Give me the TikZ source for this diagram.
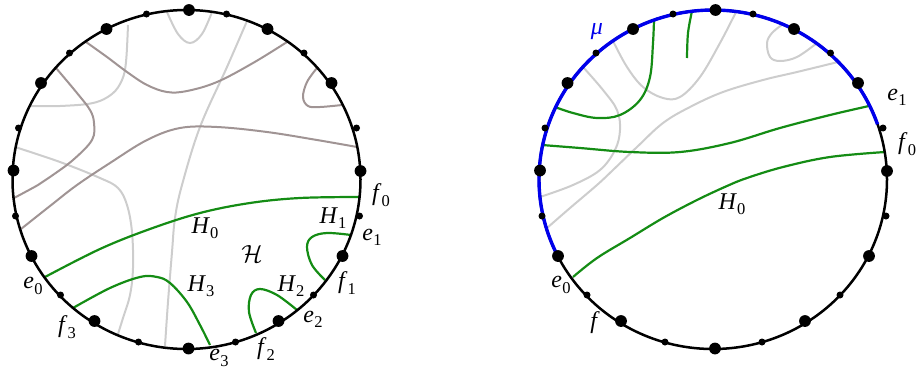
\documentclass[tikz,border=0pt]{standalone}
\usepackage{fontspec}
\setmainfont{Liberation Serif}
\definecolor{grn}{RGB}{20,140,20}
\definecolor{lgray}{RGB}{205,205,205}
\definecolor{taupe}{RGB}{160,148,148}
\definecolor{bl}{RGB}{0,0,235}
\newcommand{\myl}[2]{\textit{#1}\kern0.3pt\raisebox{-0.22em}{\fontsize{16.5}{17}\selectfont #2}}
\begin{document}
\begin{tikzpicture}[x=1pt,y=-1pt,
  rim/.style={line width=2.5pt, black},
  lgc/.style={lgray, line width=2pt},
  tpc/.style={taupe, line width=2pt},
  gc/.style={grn, line width=2.2pt},
  mu/.style={bl, line width=3.4pt},
  lab/.style={font=\fontsize{24}{28}\selectfont, inner sep=0pt}]
\useasboundingbox (0,0) rectangle (918,370);
% ---------- left circle: light gray curves
\draw[lgc] plot[smooth, tension=0.6] coordinates {(167,12) (178,34) (190,43) (202,34) (212,12)};
\draw[lgc] plot[smooth, tension=0.6] coordinates {(128,25) (126,62) (122,80) (112,94) (93,103) (60,106) (31,106)};
\draw[lgc] plot[smooth, tension=0.6] coordinates {(247,21) (227,67) (200,127) (182,185) (175,218) (172,252) (168,302) (165,346)};
\draw[lgc] plot[smooth, tension=0.6] coordinates {(15,147) (60,162) (100,178) (118,188) (127,205) (132,232) (133,268) (130,295) (123,318) (118,334)};
% taupe curves
\draw[tpc] plot[smooth, tension=0.6] coordinates {(86,42) (107,57) (127,72) (147,85) (167,92) (187,91) (217,82) (253,63) (287,42)};
\draw[tpc] plot[smooth, tension=0.6] coordinates {(56,68) (77,93) (90,110) (94,123) (92,140) (73,160) (50,177) (38,185) (14,198)};
\draw[tpc] plot[smooth, tension=0.6] coordinates {(21,229) (50,206) (77,185) (110,163) (147,140) (180,128) (217,127) (267,132) (317,140) (357,147)};
\draw[tpc] plot[smooth, tension=0.6] coordinates {(317,68) (307,82) (303,97) (308,106) (320,107) (342,105)};
% green curves
\draw[gc] plot[smooth, tension=0.6] coordinates {(45,277) (100,249) (150,229) (200,213) (250,203) (300,198) (359,197)};
\draw[gc] plot[smooth, tension=0.6] coordinates {(351,235) (327,233) (312,237) (307,247) (312,265) (325,280)};
\draw[gc] plot[smooth, tension=0.6] coordinates {(297,310) (277,295) (260,289) (251,295) (249,312) (256,333)};
\draw[gc] plot[smooth, tension=0.6] coordinates {(73,308) (110,288) (140,277) (157,277) (170,283) (187,302) (200,325) (210,345)};
% rim
\draw[rim] (186.5,179.5) ellipse [x radius=174, y radius=169.5];
% ---------- right circle: light gray curves
\draw[lgc] plot[smooth, tension=0.6] coordinates {(783,24) (772,33) (767,43) (770,57) (780,61) (797,57) (817,43)};
\draw[lgc] plot[smooth, tension=0.6] coordinates {(613,41) (627,67) (643,87) (663,98) (680,97) (700,77) (720,43) (736,12)};
\draw[lgc] plot[smooth, tension=0.6] coordinates {(838,62) (797,72) (763,80) (723,92) (690,107) (663,123) (637,147) (613,170) (597,185) (570,208) (547,228)};
\draw[lgc] plot[smooth, tension=0.6] coordinates {(583,67) (603,90) (617,110) (620,130) (615,150) (600,170) (573,185) (540,197)};
% green curves
\draw[gc] plot[smooth, tension=0.6] coordinates {(555,107) (573,113) (597,118) (620,115) (640,100) (650,77) (653,43) (654,20)};
\draw[gc] plot[smooth, tension=0.6] coordinates {(692,11) (688,33) (687,58)};
\draw[gc] plot[smooth, tension=0.6] coordinates {(542,145) (580,148) (630,152) (680,152) (730,143) (780,128) (830,115) (869,106)};
\draw[gc] plot[smooth, tension=0.6] coordinates {(885,152) (830,157) (783,167) (747,178) (727,186) (697,200) (663,218) (630,238) (597,258) (573,277)};
% rim and blue arc
\draw[rim] (713,179.5) ellipse [x radius=174, y radius=169.5];
\draw[mu] plot[domain=-19:-206.8, samples=120] ({713+174*cos(\x)}, {179.5+169.5*sin(\x)});
% ---------- dots
\foreach \cx in {186.5, 713} {
  \foreach \dx/\dy/\r in {2.5/-169.5/5.9, -40/-165.5/3.5, 40/-165.5/3.5, -80/-150.5/5.9, 81/-150.5/5.9,
     -117/-126.5/3.5, 117.5/-126.5/3.5, -145.5/-96.5/5.9, 145/-96.5/5.9, -168/-51.5/3.5, 170/-51.5/3.5,
     -173/-9/5.9, 174/-8.5/5.9, -171/36.5/3.5, 173/36.5/3.5, -155/76.5/5.9, 156/76.5/5.9,
     -126/115.5/3.5, 127/115.5/3.5, -92/141.5/5.9, 92/141.5/5.9, -48/162.5/3.5, 49/162.5/3.5, 2/169/5.9} {
    \fill ({\cx+(\dx)}, {179.5+(\dy)}) circle [radius=\r];
  }
}
% ---------- labels left
\node[lab] (lf0) at (381,195) {\myl{f}{0}};
\node[lab] (lH0) at (205,228) {\myl{H}{0}};
\node[lab] (lH1) at (333,218) {\myl{H}{1}};
\node[lab] (le1) at (372,237) {\myl{e}{1}};
\node[lab] (lcH) at (252,254) {$\mathcal{H}$};
\node[lab] (lf1) at (347,283) {\myl{f}{1}};
\node[lab] (lH2) at (291,286) {\myl{H}{2}};
\node[lab] (lH3) at (201,286) {\myl{H}{3}};
\node[lab] (le2) at (313,319) {\myl{e}{2}};
\node[lab] (lf2) at (266,349) {\myl{f}{2}};
\node[lab] (le3) at (219,358) {\myl{e}{3}};
\node[lab] (lf3) at (67,327) {\myl{f}{3}};
\node[lab] (le0) at (33,286) {\myl{e}{0}};
% ---------- labels right
\node[lab, text=bl] (rmu) at (597,32) {\textit{μ}};
\node[lab] (re1) at (897,97) {\myl{e}{1}};
\node[lab] (rf0) at (907,144) {\myl{f}{0}};
\node[lab] (rH0) at (732,204) {\myl{H}{0}};
\node[lab] (re0) at (561,285) {\myl{e}{0}};
\node[lab] (rf) at (595,323) {\textit{f}};
\end{tikzpicture}
\end{document}
